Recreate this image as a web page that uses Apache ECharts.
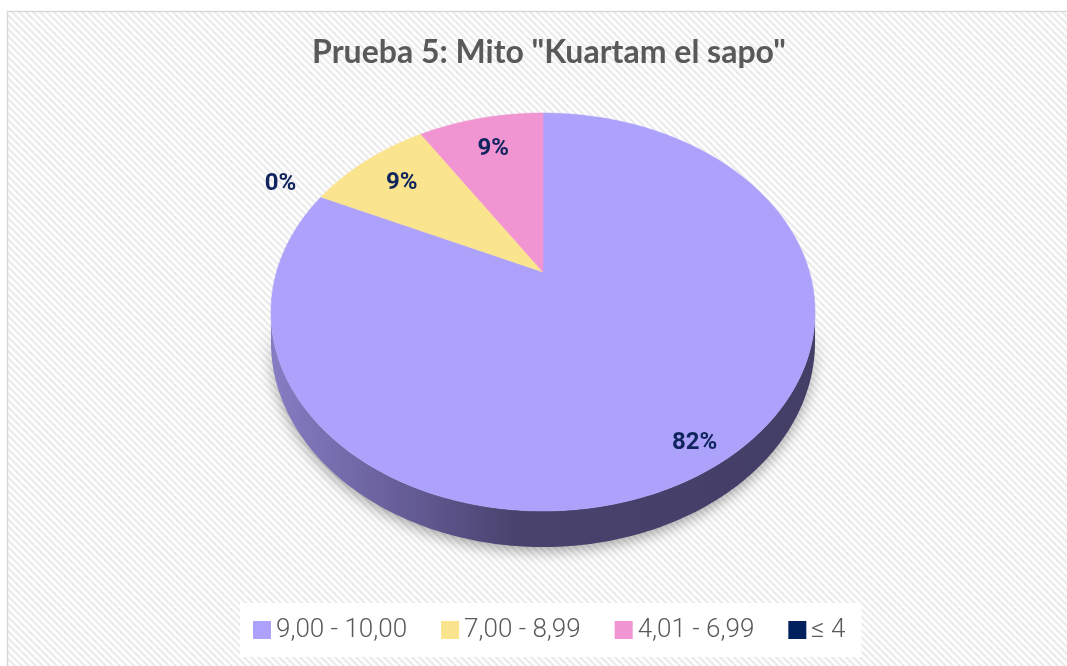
<!DOCTYPE html>
<html>
<head>
<meta charset="utf-8">
<script src="https://cdn.jsdelivr.net/npm/echarts@6/dist/echarts.min.js"></script>
<style>
  html, body { margin: 0; padding: 0; background: #ffffff; }
  #chart { width: 1067px; height: 666px; }
</style>
</head>
<body>
<div id="chart"></div>
<script>
// Grade bands and their share of students
const titleText = 'Prueba 5: Mito "Kuartam el sapo"';
const categories = ['9,00 - 10,00', '7,00 - 8,99', '4,01 - 6,99', '≤ 4'];
const percentValues = [82, 9, 9, 0];
const sliceColors = ['#ada2fb', '#fbe48e', '#f195d2', '#00215e'];
// order in which the slices are laid out clockwise from 12 o'clock
const clockwiseOrder = [0, 3, 1, 2];

// perspective disc geometry (screen pixels)
const CX = 543, EY = 272, A = 266.5, D = -136.3, G = 0.201, H = 28.8;
const labelRadius = [0.9, 0.78, 0.77, 1.2];

function proj(theta, r, drop) {
  const u = r * Math.sin(theta), v = r * Math.cos(theta);
  const w = 1 + G * v;
  return [CX + A * u / w, (EY + D * v + drop) / w];
}

// start / end angle of every slice, built from the values
const total = percentValues.reduce((s, v) => s + v, 0);
const sliceAngles = [];
(function () {
  let acc = 0;
  clockwiseOrder.forEach(function (i) {
    const s = acc / total * Math.PI * 2;
    acc += percentValues[i];
    sliceAngles[i] = [s, acc / total * Math.PI * 2];
  });
})();

function arc(s, e, r, drop) {
  const pts = [];
  const n = Math.max(2, Math.ceil((e - s) / (Math.PI / 180)));
  for (let k = 0; k <= n; k++) pts.push(proj(s + (e - s) * k / n, r, drop));
  return pts;
}

// front wall visible between the two silhouette angles
const visLo = Math.acos(-G), visHi = Math.PI * 2 - Math.acos(-G);

const sideGradient = new echarts.graphic.LinearGradient(275, 0, 815, 0, [
  { offset: 0, color: '#857cc3' },
  { offset: 0.3, color: '#5d558b' },
  { offset: 0.45, color: '#48426d' },
  { offset: 1, color: '#433e66' }
], true);

// diagonal hatch used for the chart area
const tile = document.createElement('canvas');
tile.width = 7; tile.height = 7;
(function () {
  const c = tile.getContext('2d');
  c.fillStyle = '#ffffff'; c.fillRect(0, 0, 7, 7);
  c.strokeStyle = '#ececec'; c.lineWidth = 2.4;
  [[-7, 0], [0, 0], [7, 0]].forEach(function (o) {
    c.beginPath(); c.moveTo(o[0] - 1, -1); c.lineTo(o[0] + 8, 8); c.stroke();
  });
})();

const series = [];

// wall of the disc
series.push({
  type: 'custom',
  name: 'wall',
  coordinateSystem: 'none',
  z: 1,
  silent: true,
  data: [0],
  renderItem: function () {
    const children = [];
    categories.forEach(function (c, i) {
      const s = Math.max(sliceAngles[i][0], visLo);
      const e = Math.min(sliceAngles[i][1], visHi);
      if (e <= s) return;
      const top = arc(s, e, 1, 0);
      const bottom = arc(s, e, 1, H).reverse();
      children.push({
        type: 'polygon',
        shape: { points: top.concat(bottom) },
        style: {
          fill: sideGradient,
          shadowBlur: 14,
          shadowColor: 'rgba(0,0,0,0.35)',
          shadowOffsetY: 4
        }
      });
    });
    return { type: 'group', children: children };
  }
});

// top faces, one series per grade band
categories.forEach(function (name, i) {
  series.push({
    type: 'custom',
    name: name,
    coordinateSystem: 'none',
    z: 2,
    itemStyle: { color: sliceColors[i] },
    data: [percentValues[i]],
    renderItem: function (params, api) {
      const val = api.value(0);
      if (!(val > 0)) return { type: 'group', children: [] };
      const a = sliceAngles[i];
      const pts = [proj(0, 0, 0)].concat(arc(a[0], a[1], 1, 0));
      return {
        type: 'polygon',
        shape: { points: pts },
        style: { fill: sliceColors[i], stroke: sliceColors[i], lineWidth: 0.5 }
      };
    }
  });
});

// percentage labels
series.push({
  type: 'custom',
  name: 'labels',
  coordinateSystem: 'none',
  z: 5,
  silent: true,
  data: percentValues.map(function (v, i) { return [v, i]; }),
  renderItem: function (params, api) {
    const val = api.value(0), i = api.value(1);
    const a = sliceAngles[i];
    const p = proj((a[0] + a[1]) / 2, labelRadius[i], 0);
    return {
      type: 'text',
      style: {
        text: Math.round(val) + '%',
        x: p[0], y: p[1],
        align: 'center', verticalAlign: 'middle',
        fill: '#10245e',
        fontFamily: 'Roboto', fontWeight: 'bold', fontSize: 24
      }
    };
  }
});

const chart = echarts.init(document.getElementById('chart'), null, { renderer: 'canvas' });
chart.setOption({
  animation: false,
  backgroundColor: '#ffffff',
  graphic: {
    elements: [{
      type: 'rect',
      z: -10,
      silent: true,
      shape: { x: 7.5, y: 11.5, width: 1100, height: 700 },
      style: { fill: { image: tile, repeat: 'repeat' }, stroke: '#d9d9d9', lineWidth: 1.5 }
    }]
  },
  title: {
    text: titleText,
    left: 544,
    textAlign: 'center',
    top: 32,
    textStyle: { fontFamily: 'Lato', fontWeight: 'bold', fontSize: 32, color: '#595959' }
  },
  legend: {
    data: categories,
    left: 240,
    top: 603,
    icon: 'rect',
    itemWidth: 18,
    itemHeight: 18,
    itemGap: 34,
    padding: [12, 16, 12, 13],
    backgroundColor: '#ffffff',
    selectedMode: false,
    textStyle: { fontFamily: 'Roboto', fontWeight: 300, fontSize: 26, lineHeight: 30, color: '#595959' }
  },
  series: series
});
</script>
</body>
</html>
